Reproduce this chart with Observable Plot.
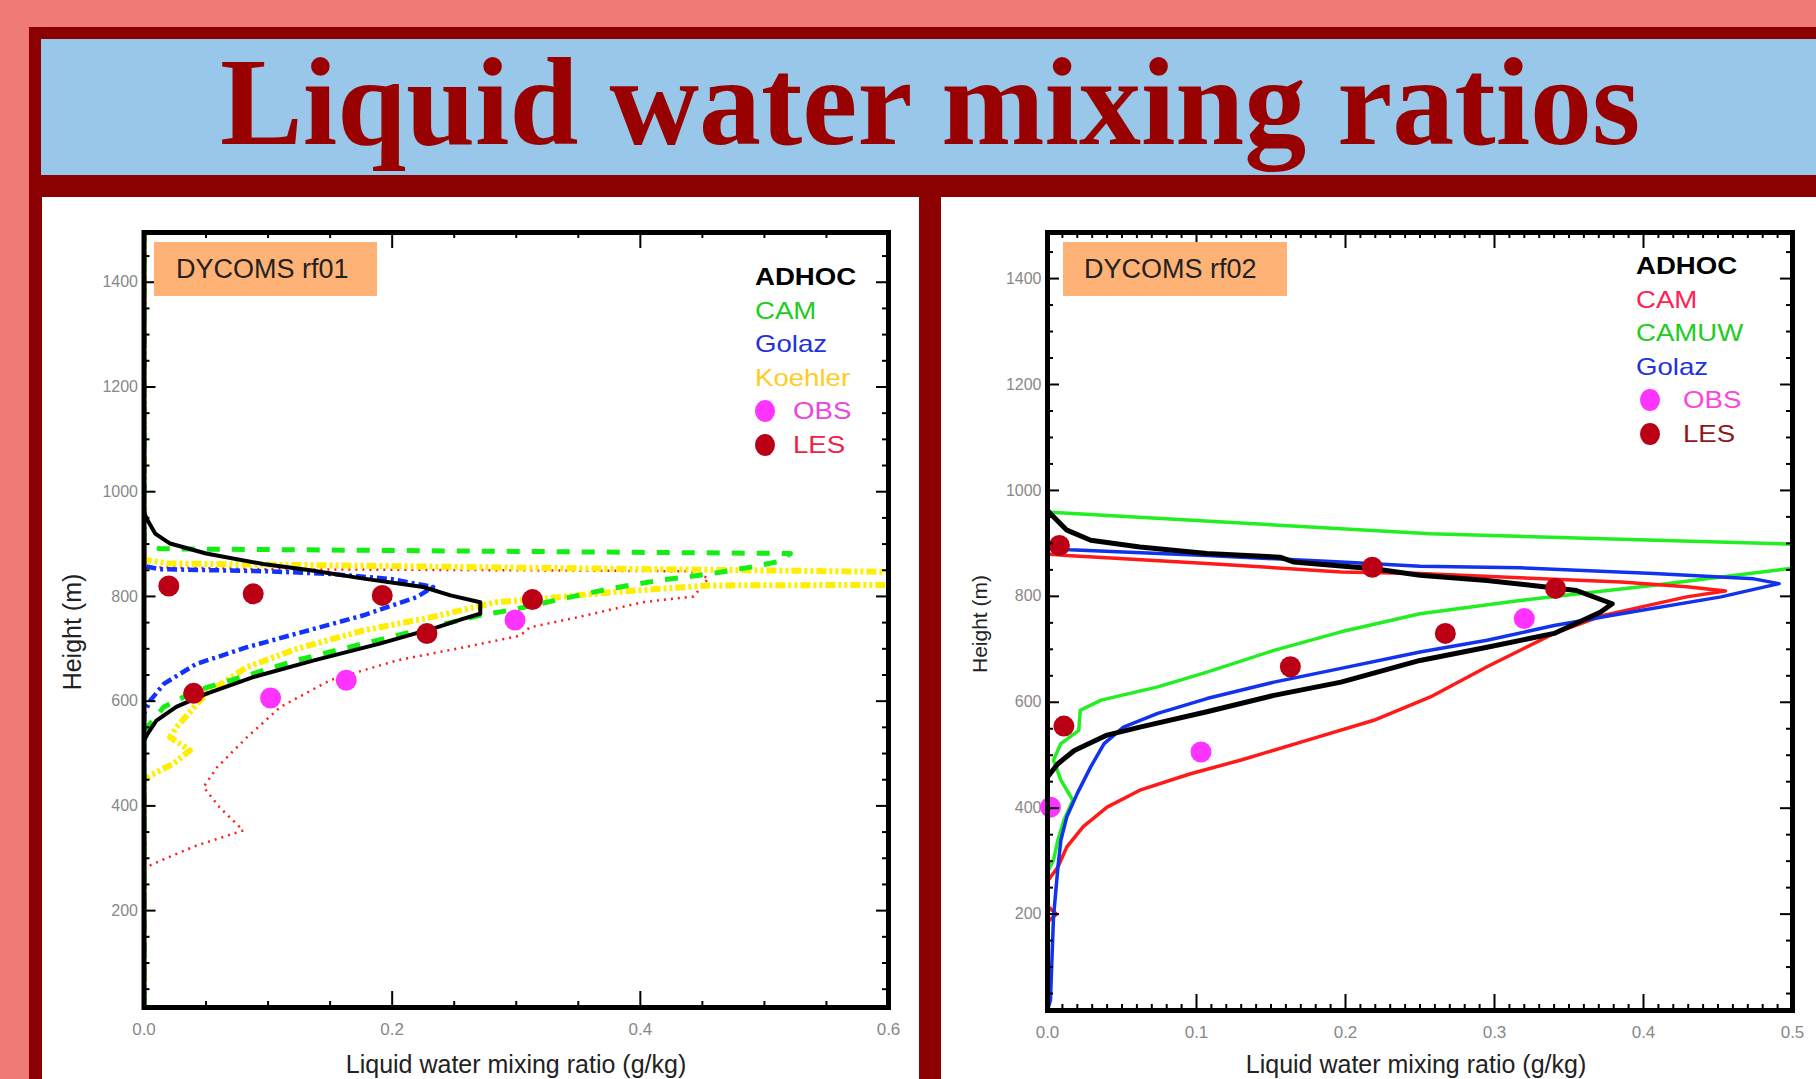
<!DOCTYPE html>
<html><head><meta charset="utf-8">
<script src="https://cdn.jsdelivr.net/npm/d3@7"></script>
<script src="https://cdn.jsdelivr.net/npm/@observablehq/plot@0.6"></script>
<style>
body{margin:0;width:1816px;height:1079px;overflow:hidden;position:relative;background:#ef7a76;font-family:"Liberation Sans",Arial,sans-serif;}
.abs{position:absolute;}
#frame{left:29px;top:27px;right:0;bottom:0;background:#8b0000;}
#titlebar{left:41px;top:39px;width:1775px;height:136px;background:#99c7e9;}
#title{left:220px;top:41px;font-family:"Liberation Serif","Times New Roman",serif;font-weight:bold;font-size:124px;line-height:124px;color:#990000;white-space:nowrap;}
#panelL{left:42px;top:197px;width:877px;height:882px;background:#fff;}
#panelR{left:941px;top:197px;width:875px;height:882px;background:#fff;}
.case{background:#ffb276;height:54px;top:242px;}
.caseText{font-size:27px;line-height:27px;color:#222;white-space:nowrap;}
.leg{font-size:24px;line-height:24px;white-space:nowrap;transform:scaleX(1.15);transform-origin:0 0;}
.dot{width:20px;height:22px;border-radius:50%;}
.xlab{font-size:25px;line-height:25px;color:#222;white-space:nowrap;transform:translateX(-50%);}
.ylab{font-size:25px;line-height:25px;color:#222;white-space:nowrap;transform:translate(-50%,-50%) rotate(-90deg);}
</style></head><body>
<div id="frame" class="abs"></div>
<div id="titlebar" class="abs"></div>
<div id="title" class="abs">Liquid water mixing ratios</div>
<div id="panelL" class="abs"></div>
<div id="panelR" class="abs"></div>
<div id="overlay"></div>
<script>
// ---------- DATA (liquid water mixing ratio g/kg, height m) ----------
const rf01Title = "DYCOMS rf01";
const rf02Title = "DYCOMS rf02";
const xLabel = "Liquid water mixing ratio (g/kg)";
const yLabel = "Height (m)";

const rf01Adhoc = [[0,1495],[0,960],[0.003,945],[0.009,920],[0.021,901],[0.05,882],[0.096,862],[0.134,850],[0.177,834],[0.225,818],[0.247,802],[0.271,789],[0.271,767],[0.257,757],[0.236,741],[0.19,710],[0.137,678],[0.088,646],[0.05,614],[0.026,589],[0.01,563],[0.003,538],[0,525],[0,15]];
const rf01Cam = [[0,1495],[0,900],[0.013,891],[0.3,886],[0.521,882],[0.51,866],[0.489,856],[0.456,843],[0.416,831],[0.376,815],[0.338,796],[0.298,775],[0.271,764],[0.231,741],[0.177,710],[0.123,678],[0.083,649],[0.042,620],[0.016,589],[0.005,557],[0,545],[0,15]];
const rf01Golaz = [[0,1495],[0,858],[0.013,852],[0.1,848],[0.15,843],[0.2,833],[0.233,818],[0.22,799],[0.177,764],[0.123,729],[0.083,703],[0.042,671],[0.016,633],[0.005,601],[0,576],[0,15]];
const rf01Koehler = [[0,1495],[0,870],[0.02,863],[0.3,855],[0.6,847],[0.65,835],[0.6,822],[0.456,821],[0.376,808],[0.322,796],[0.284,789],[0.231,760],[0.177,735],[0.123,700],[0.083,665],[0.05,614],[0.026,550],[0.021,531],[0.037,506],[0.024,481],[0.005,458],[0,450],[0,15]];
const rf01Dotted = [[0,1495],[0,856],[0.1,852],[0.3,850],[0.44,848],[0.455,835],[0.443,800],[0.402,789],[0.349,760],[0.311,741],[0.303,725],[0.258,703],[0.204,678],[0.15,640],[0.11,589],[0.083,531],[0.059,474],[0.048,436],[0.061,397],[0.08,353],[0.042,324],[0.007,289],[0,280],[0,15]];
const rf01Les = [[0.02,820],[0.088,805],[0.192,802],[0.313,794],[0.228,729],[0.04,615]];
const rf01Obs = [[0.299,755],[0.163,640],[0.102,606]];

const rf02Adhoc = [[0,1487],[0,962],[0.002,956],[0.013,925],[0.029,906],[0.062,893],[0.107,881],[0.156,874],[0.165,865],[0.219,852],[0.25,840],[0.295,830],[0.333,818],[0.355,811],[0.379,786],[0.371,770],[0.34,730],[0.295,704],[0.25,679],[0.197,638],[0.152,613],[0.107,582],[0.062,553],[0.04,538],[0.018,509],[0.007,484],[0,459],[0,18]];
const rf02Cam = [[0,1487],[0,880],[0.013,877],[0.107,862],[0.197,846],[0.25,843],[0.317,835],[0.385,827],[0.429,818],[0.455,810],[0.429,799],[0.373,764],[0.34,730],[0.295,667],[0.257,610],[0.219,566],[0.174,528],[0.13,491],[0.096,465],[0.062,434],[0.04,402],[0.024,365],[0.013,327],[0.007,289],[0,262],[0,215],[0.006,200],[0,185],[0,18]];
const rf02Camuw = [[0,1487],[0,962],[0.002,959],[0.257,918],[0.497,899],[0.56,885],[0.497,852],[0.407,821],[0.317,792],[0.25,767],[0.197,733],[0.152,698],[0.107,657],[0.074,629],[0.036,604],[0.022,585],[0.021,547],[0.009,522],[0.004,491],[0.009,453],[0.017,415],[0.011,377],[0.007,340],[0.004,302],[0,280],[0,18]];
const rf02Golaz = [[0,1487],[0,892],[0.015,888],[0.107,877],[0.197,865],[0.25,857],[0.317,854],[0.407,843],[0.474,833],[0.491,824],[0.452,799],[0.385,767],[0.34,745],[0.295,717],[0.25,695],[0.197,664],[0.152,638],[0.107,607],[0.074,579],[0.051,553],[0.038,522],[0.029,478],[0.02,428],[0.013,384],[0.009,340],[0.007,289],[0.004,193],[0.002,38],[0,18]];
const rf02Les = [[0.008,896],[0.218,855],[0.341,815],[0.267,730],[0.163,667],[0.011,555]];
const rf02Obs = [[0.32,758],[0.103,506],[0.002,402]];

const rf01XTicks = [0, 0.2, 0.4, 0.6];
const rf02XTicks = [0, 0.1, 0.2, 0.3, 0.4, 0.5];
const yTicks = [200, 400, 600, 800, 1000, 1200, 1400];

const rf01LegendNames = ["ADHOC", "CAM", "Golaz", "Koehler", "OBS", "LES"];
const rf02LegendNames = ["ADHOC", "CAM", "CAMUW", "Golaz", "OBS", "LES"];

// ---------- STYLES ----------
const C = {black:"#000", green:"#14ee14", blue:"#1133ff", yellow:"#ffee00", red:"#ff1a1a", les:"#bb0015", obs:"#ff33ff"};

function minorTicks(lo, hi, step, majors) {
  return d3.range(lo, hi + step/2, step)
    .filter(v => v <= hi + 1e-9)
    .filter(v => !majors.some(m => Math.abs(m - v) < step/4));
}

function tickMarks(xMaj, xMin, yMaj, yMin, fw, fh) {
  const s = {stroke: "black", strokeWidth: 2};
  return [
    Plot.tickX(xMaj, {x: d => d, insetTop: fh - 16, ...s}),
    Plot.tickX(xMaj, {x: d => d, insetBottom: fh - 16, ...s}),
    Plot.tickX(xMin, {x: d => d, insetTop: fh - 6, ...s}),
    Plot.tickX(xMin, {x: d => d, insetBottom: fh - 6, ...s}),
    Plot.tickY(yMaj, {y: d => d, insetRight: fw - 12, ...s}),
    Plot.tickY(yMaj, {y: d => d, insetLeft: fw - 12, ...s}),
    Plot.tickY(yMin, {y: d => d, insetRight: fw - 6, ...s}),
    Plot.tickY(yMin, {y: d => d, insetLeft: fw - 6, ...s})
  ];
}

function chart({width, height, mL, mR, mT, mB, xDomain, yDomain, xTicks, xMinorStep, lines, les, obs}) {
  const fw = width - mL - mR, fh = height - mT - mB;
  const yMin = minorTicks(50, yDomain[1] - 10, 50, yTicks);
  const xMin = minorTicks(0, xDomain[1], xMinorStep, xTicks);
  return Plot.plot({
    width, height, marginLeft: mL, marginRight: mR, marginTop: mT, marginBottom: mB,
    x: {domain: xDomain}, y: {domain: yDomain},
    style: {background: "transparent", overflow: "visible", fontFamily: "'Liberation Sans', Arial, sans-serif"},
    marks: [
      Plot.axisX({ticks: xTicks, tickSize: 0, tickPadding: 15, tickFormat: ".1f", fontSize: 17, color: "#888", label: null}),
      Plot.axisY({ticks: yTicks, tickSize: 0, tickPadding: 6, tickFormat: "d", fontSize: 16, color: "#888", label: null}),
      ...lines.map(([data, st]) => Plot.line(data, {x: d => d[0], y: d => d[1], clip: true, strokeLinecap: "butt", strokeLinejoin: "round", ...st})),
      Plot.dot(obs, {x: d => d[0], y: d => d[1], r: 10.5, fill: C.obs}),
      Plot.dot(les, {x: d => d[0], y: d => d[1], r: 10.5, fill: C.les}),
      ...tickMarks(xTicks, xMin, yTicks, yMin, fw, fh),
      Plot.frame({stroke: "black", strokeWidth: 5})
    ]
  });
}

const left = chart({
  width: 877, height: 882, mL: 101.5, mR: 31, mT: 35, mB: 72,
  xDomain: [0, 0.6], yDomain: [15, 1495], xTicks: rf01XTicks, xMinorStep: 0.05,
  lines: [
    [rf01Dotted, {stroke: C.red, strokeWidth: 2.5, strokeDasharray: "2,5"}],
    [rf01Koehler, {stroke: C.yellow, strokeWidth: 6, strokeDasharray: "10,3,3,3,3,3"}],
    [rf01Golaz, {stroke: C.blue, strokeWidth: 4.5, strokeDasharray: "10,4,3,4"}],
    [rf01Cam, {stroke: C.green, strokeWidth: 5, strokeDasharray: "13,12"}],
    [rf01Adhoc, {stroke: C.black, strokeWidth: 4}]
  ],
  les: rf01Les, obs: rf01Obs
});
left.style.position = "absolute"; left.style.left = "0px"; left.style.top = "0px";
document.getElementById("panelL").appendChild(left);

const right = chart({
  width: 875, height: 882, mL: 106, mR: 24, mT: 35, mB: 69,
  xDomain: [0, 0.5], yDomain: [18, 1487], xTicks: rf02XTicks, xMinorStep: 0.01,
  lines: [
    [rf02Camuw, {stroke: "#22ee22", strokeWidth: 3.5}],
    [rf02Cam, {stroke: C.red, strokeWidth: 3.5}],
    [rf02Golaz, {stroke: "#1133ee", strokeWidth: 3.5}],
    [rf02Adhoc, {stroke: C.black, strokeWidth: 5}]
  ],
  les: rf02Les, obs: rf02Obs
});
right.style.position = "absolute"; right.style.left = "0px"; right.style.top = "0px";
document.getElementById("panelR").appendChild(right);

// ---------- OVERLAY TEXT ----------
const ov = document.getElementById("overlay");
function add(cls, text, css) {
  const d = document.createElement("div");
  d.className = "abs " + cls;
  if (text != null) d.textContent = text;
  Object.assign(d.style, css);
  ov.appendChild(d);
  return d;
}
// case boxes
add("case", null, {left: "154px", width: "223px"});
add("caseText", rf01Title, {left: "176px", top: "256px"});
add("case", null, {left: "1063px", width: "224px"});
add("caseText", rf02Title, {left: "1084px", top: "256px"});

// axis labels
add("xlab", xLabel, {left: "516px", top: "1052px"});
add("xlab", xLabel, {left: "1416px", top: "1052px"});
add("ylab", yLabel, {left: "72px", top: "632px"});
add("ylab", yLabel, {left: "979px", top: "624px", fontSize: "21px"});

// legends
const leg01Colors = ["#000", "#22cc22", "#2233dd", "#ffcc22", "#ee44dd", "#ee2244"];
const leg02Colors = ["#000", "#ff2255", "#22cc22", "#2233dd", "#ff44dd", "#8b1a1a"];
function legend(names, colors, x0, base0, dotX, textX) {
  names.forEach((n, i) => {
    const base = base0 + i * 33.6;
    const isDot = n === "OBS" || n === "LES";
    add("leg", n, {left: (isDot ? textX : x0) + "px", top: (base - 20) + "px", color: colors[i], fontWeight: n === "ADHOC" ? "bold" : "normal"});
    if (isDot) add("dot", null, {left: (dotX - 10) + "px", top: (base - 19) + "px", background: n === "OBS" ? C.obs : C.les});
  });
}
legend(rf01LegendNames, leg01Colors, 755, 285, 765, 793);
legend(rf02LegendNames, leg02Colors, 1636, 274, 1650, 1683);
</script>
</body></html>
